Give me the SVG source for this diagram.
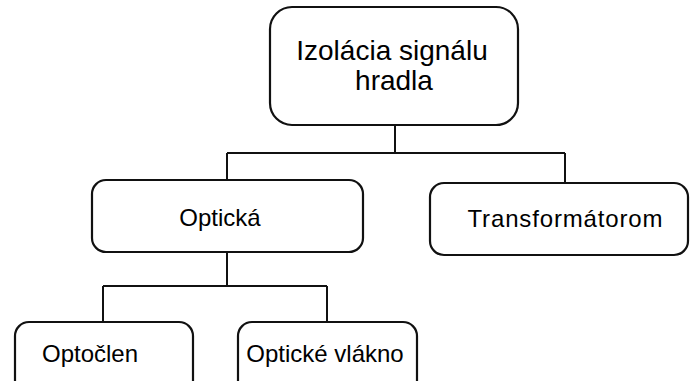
<svg xmlns="http://www.w3.org/2000/svg" width="690" height="381" viewBox="0 0 690 381">
<style>
.box{fill:#fff;stroke:#111;stroke-width:2.2}
.lbl{font-family:"Liberation Sans",Arial,sans-serif;font-size:24px;fill:#000;text-anchor:middle}
.big{font-size:28px}
.con{fill:none;stroke:#111;stroke-width:2}
</style>
<rect width="690" height="381" fill="#fff"/>
<g id="connectors">
<path class="con" d="M395 125V153M227 153H565M227 153V180M565 153V183"/>
<path class="con" d="M227 252V286M103 286H327M103 286V322M327 286V322"/>
</g>
<g id="root">
<rect class="box" x="270" y="7" width="248" height="118" rx="22"/>
<text class="lbl big" x="392" y="60">Izolácia signálu</text>
<text class="lbl big" x="394" y="90">hradla</text>
</g>
<g id="opticka">
<rect class="box" x="92" y="180" width="271" height="72" rx="14"/>
<text class="lbl" x="220" y="226">Optická</text>
</g>
<g id="transformatorom">
<rect class="box" x="430" y="183" width="258" height="72" rx="14"/>
<text class="lbl" x="565" y="227" textLength="195">Transformátorom</text>
</g>
<g id="optoclen">
<rect class="box" x="15" y="322" width="178" height="80" rx="14"/>
<text class="lbl" x="90" y="362">Optočlen</text>
</g>
<g id="vlakno">
<rect class="box" x="238" y="322" width="179" height="80" rx="14"/>
<text class="lbl" x="325" y="362">Optické vlákno</text>
</g>
</svg>
